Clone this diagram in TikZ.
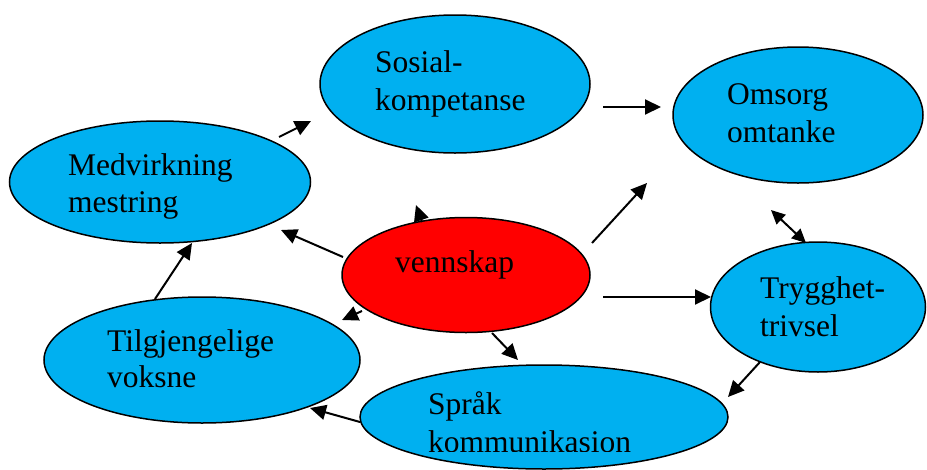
\documentclass[tikz,border=0pt]{standalone}
\usepackage{fontspec}
\setmainfont{Liberation Serif}
\usetikzlibrary{shapes.geometric,arrows.meta}
\definecolor{bubble}{RGB}{0,176,240}
\definecolor{centre}{RGB}{255,0,0}
\tikzset{
  oval/.style={ellipse, draw=black, line width=1.5pt, inner sep=0pt, fill=bubble},
  redoval/.style={oval, fill=centre},
  txt/.style={anchor=base west, inner sep=0pt, font=\fontsize{31.5}{36}\selectfont},
  arr/.style={line width=2pt, -{Triangle[length=16pt,width=15pt]}},
  darr/.style={line width=2pt, {Triangle[length=14pt,width=13pt]}-{Triangle[length=14pt,width=13pt]}}
}
\begin{document}
\begin{tikzpicture}[x=1pt,y=-1pt]
\useasboundingbox (0,0) rectangle (927,469);
% ellipses
\node[oval, minimum width=270pt, minimum height=138pt] (sos) at (455,84) {};
\node[oval, minimum width=250pt, minimum height=136pt] (oms) at (798,115) {};
\node[oval, minimum width=301pt, minimum height=122pt] (med) at (160,182) {};
\node[redoval, minimum width=248pt, minimum height=115pt] (ven) at (466,275) {};
\node[oval, minimum width=316pt, minimum height=126pt] (til) at (202,360) {};
\node[oval, minimum width=215pt, minimum height=130pt] (try) at (818,307) {};
\node[oval, minimum width=368pt, minimum height=104pt] (spr) at (544,417) {};
% texts
\node[txt] (sos1) at (375,72) {Sosial-};
\node[txt] (sos2) at (375,110) {kompetanse};
\node[txt] (oms1) at (727,104) {Omsorg};
\node[txt] (oms2) at (727,142) {omtanke};
\node[txt] (med1) at (68,175) {Medvirkning};
\node[txt] (med2) at (68,212) {mestring};
\node[txt] (ven1) at (395,272) {vennskap};
\node[txt] (til1) at (107,351) {Tilgjengelige};
\node[txt] (til2) at (107,387) {voksne};
\node[txt] (try1) at (760,298) {Trygghet-};
\node[txt] (try2) at (760,336) {trivsel};
\node[txt] (spr1) at (428,414) {Språk};
\begin{scope}
\clip (0,0) rectangle (927,451);
\node[txt] (spr2) at (428,452.5) {kommunikasion};
\end{scope}
% arrow end points
\coordinate (a1s) at (279,137); \coordinate (a1e) at (311,121);
\coordinate (a2s) at (603,107); \coordinate (a2e) at (661,107);
\coordinate (a3s) at (771,210); \coordinate (a3e) at (806,243);
\coordinate (a4s) at (592,243); \coordinate (a4e) at (647,183);
\coordinate (a5s) at (603,297); \coordinate (a5e) at (711,297);
\coordinate (a6s) at (760,362); \coordinate (a6e) at (728,397);
\coordinate (a7s) at (492,333); \coordinate (a7e) at (518,360);
\coordinate (a8s) at (360,422); \coordinate (a8e) at (310,408);
\coordinate (a9s) at (155,299); \coordinate (a9e) at (192,243);
\coordinate (a10s) at (343,257); \coordinate (a10e) at (281,230);
\coordinate (a11s) at (422,222); \coordinate (a11e) at (416,205);
\coordinate (a12s) at (362,311); \coordinate (a12e) at (342,320);
% arrows
\draw[arr] (a1s) -- (a1e);
\draw[arr] (a2s) -- (a2e);
\draw[darr] (a3s) -- (a3e);
\draw[arr] (a4s) -- (a4e);
\draw[arr] (a5s) -- (a5e);
\draw[arr] (a6s) -- (a6e);
\draw[arr] (a7s) -- (a7e);
\draw[arr] (a8s) -- (a8e);
\draw[arr] (a9s) -- (a9e);
\draw[arr] (a10s) -- (a10e);
\draw[arr] (a11s) -- (a11e);
\draw[arr] (a12s) -- (a12e);
\end{tikzpicture}
\end{document}
